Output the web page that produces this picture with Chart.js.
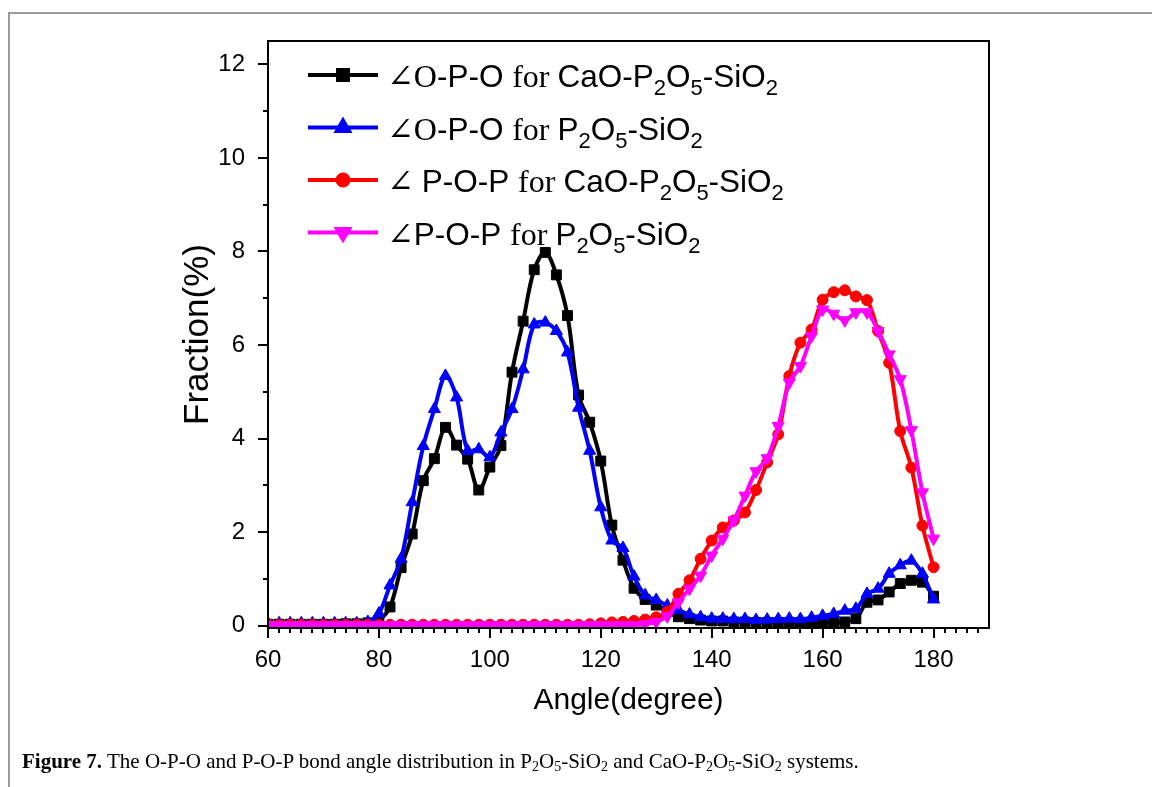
<!DOCTYPE html>
<html>
<head>
<meta charset="utf-8">
<title>Bond angle distribution</title>
<script src="https://cdn.jsdelivr.net/npm/chart.js@4.4.1/dist/chart.umd.min.js"></script>
<style>
  html, body { margin: 0; padding: 0; background: #fff; }
  #wrap { position: relative; width: 1152px; height: 787px; overflow: hidden; }
  #frame { position: absolute; left: 8px; top: 12px; width: 1300px; height: 900px;
           border-left: 2px solid #9c9c9c; border-top: 2px solid #9c9c9c; }
  #angleChart { position: absolute; left: 0; top: 0; }
  #caption { position: absolute; left: 22px; top: 749px; white-space: nowrap;
             font-family: "Liberation Serif", "DejaVu Serif", serif; font-size: 21px; color: #000; }
  #caption sub { font-size: 14px; vertical-align: -3px; line-height: 0; }
</style>
</head>
<body>
<div id="wrap">
  <div id="frame"></div>
  <canvas id="angleChart" width="1152" height="787"></canvas>
  <div id="caption"><b>Figure 7.</b> The O-P-O and P-O-P bond angle distribution in P<sub>2</sub>O<sub>5</sub>-SiO<sub>2</sub> and CaO-P<sub>2</sub>O<sub>5</sub>-SiO<sub>2</sub> systems.</div>
</div>

<script>
// bond angle bins (degree)
const angles = [60, 62, 64, 66, 68, 70, 72, 74, 76, 78,
                80, 82, 84, 86, 88, 90, 92, 94, 96, 98,
                100, 102, 104, 106, 108, 110, 112, 114, 116, 118,
                120, 122, 124, 126, 128, 130, 132, 134, 136, 138,
                140, 142, 144, 146, 148, 150, 152, 154, 156, 158,
                160, 162, 164, 166, 168, 170, 172, 174, 176, 178, 180];

// fraction (%) per bin
const opoCaO = [0.03, 0.03, 0.03, 0.03, 0.03, 0.03, 0.03, 0.04, 0.04, 0.06,
                0.12, 0.40, 1.24, 1.96, 3.10, 3.57, 4.24, 3.86, 3.56, 2.90,
                3.39, 3.85, 5.42, 6.51, 7.61, 7.98, 7.50, 6.63, 4.93, 4.35,
                3.52, 2.15, 1.40, 0.80, 0.56, 0.44, 0.30, 0.19, 0.15, 0.12,
                0.10, 0.10, 0.08, 0.08, 0.07, 0.07, 0.07, 0.07, 0.07, 0.07,
                0.07, 0.07, 0.08, 0.15, 0.50, 0.55, 0.72, 0.90, 0.97, 0.93, 0.63];
const opoNoCa = [0.05, 0.05, 0.05, 0.05, 0.05, 0.05, 0.05, 0.05, 0.05, 0.08,
                 0.26, 0.86, 1.43, 2.64, 3.84, 4.63, 5.34, 4.88, 3.74, 3.77,
                 3.60, 4.13, 4.63, 5.48, 6.44, 6.48, 6.30, 5.84, 4.66, 3.74,
                 2.53, 1.82, 1.66, 1.05, 0.65, 0.55, 0.43, 0.33, 0.24, 0.18,
                 0.15, 0.15, 0.14, 0.14, 0.12, 0.13, 0.14, 0.15, 0.14, 0.17,
                 0.21, 0.25, 0.32, 0.36, 0.68, 0.79, 1.11, 1.29, 1.39, 1.11, 0.56];
const popCaO = [0.02, 0.02, 0.02, 0.02, 0.02, 0.02, 0.02, 0.02, 0.02, 0.02,
                0.02, 0.02, 0.02, 0.02, 0.02, 0.02, 0.02, 0.02, 0.02, 0.02,
                0.02, 0.02, 0.02, 0.02, 0.02, 0.02, 0.02, 0.02, 0.02, 0.03,
                0.05, 0.07, 0.08, 0.10, 0.13, 0.18, 0.30, 0.68, 0.97, 1.43,
                1.82, 2.10, 2.25, 2.42, 2.90, 3.49, 4.09, 5.34, 6.05, 6.33,
                6.97, 7.13, 7.17, 7.04, 6.96, 6.30, 5.62, 4.16, 3.38, 2.14, 1.25];
const popNoCa = [0.01, 0.01, 0.01, 0.01, 0.01, 0.01, 0.01, 0.01, 0.01, 0.01,
                 0.01, 0.01, 0.01, 0.01, 0.01, 0.01, 0.01, 0.01, 0.01, 0.01,
                 0.01, 0.01, 0.01, 0.01, 0.01, 0.01, 0.01, 0.01, 0.01, 0.01,
                 0.01, 0.01, 0.01, 0.01, 0.03, 0.08, 0.20, 0.50, 0.79, 1.07,
                 1.50, 1.86, 2.25, 2.78, 3.30, 3.58, 4.27, 5.20, 5.55, 6.19,
                 6.76, 6.67, 6.53, 6.70, 6.70, 6.30, 5.80, 5.27, 4.18, 2.85, 1.86];

const xTicks = [60, 80, 100, 120, 140, 160, 180];
const yTicks = [0, 2, 4, 6, 8, 10, 12];

// legend labels, split into runs: [text, style]
const seriesLabels = [
  [['\u2220O', 'serif'], ['-P-O ', 'sans'], ['for ', 'serif'], ['CaO-P', 'sans'], ['2', 'sub'], ['O', 'sans'], ['5', 'sub'], ['-SiO', 'sans'], ['2', 'sub']],
  [['\u2220O', 'serif'], ['-P-O ', 'sans'], ['for ', 'serif'], ['P', 'sans'], ['2', 'sub'], ['O', 'sans'], ['5', 'sub'], ['-SiO', 'sans'], ['2', 'sub']],
  [['\u2220 ', 'serif'], ['P-O-P ', 'sans'], ['for ', 'serif'], ['CaO-P', 'sans'], ['2', 'sub'], ['O', 'sans'], ['5', 'sub'], ['-SiO', 'sans'], ['2', 'sub']],
  [['\u2220', 'serif'], ['P-O-P ', 'sans'], ['for ', 'serif'], ['P', 'sans'], ['2', 'sub'], ['O', 'sans'], ['5', 'sub'], ['-SiO', 'sans'], ['2', 'sub']]
];

const SANS = '"Liberation Sans", Arial, sans-serif';
const SERIF = '"Liberation Serif", "DejaVu Serif", serif';

function toPoints(values) {
  return values.map((v, i) => ({ x: angles[i], y: v }));
}

function series(label, values, color, style, radius, rotation, order) {
  return {
    label: label,
    data: toPoints(values),
    borderColor: color,
    backgroundColor: color,
    borderWidth: 4,
    tension: 0.35,
    pointStyle: style,
    pointRadius: radius,
    pointRotation: rotation,
    pointBorderWidth: 1,
    pointBackgroundColor: color,
    pointBorderColor: color,
    order: order
  };
}

// box around the plot + major/minor tick marks
const axisBox = {
  id: 'axisBox',
  afterDatasetsDraw(chart) {
    const { ctx, chartArea: a, scales: { x, y } } = chart;
    ctx.save();
    ctx.strokeStyle = '#000';
    ctx.lineWidth = 2;
    ctx.strokeRect(a.left, a.top, a.right - a.left, a.bottom - a.top);
    ctx.beginPath();
    for (let v = x.min; v < x.max; v += 2) {
      const px = Math.round(x.getPixelForValue(v));
      const len = (v - 60) % 20 === 0 ? 10 : 5;
      ctx.moveTo(px, a.bottom);
      ctx.lineTo(px, a.bottom + len);
    }
    for (let v = 0; v <= 12; v += 1) {
      const py = Math.round(y.getPixelForValue(v));
      const len = v % 2 === 0 ? 10 : 5;
      ctx.moveTo(a.left, py);
      ctx.lineTo(a.left - len, py);
    }
    ctx.stroke();
    ctx.restore();
  }
};

// legend with subscripts and mixed fonts
const richLegend = {
  id: 'richLegend',
  afterDraw(chart) {
    const ctx = chart.ctx;
    const x0 = 308, x1 = 378, textX = 387, rowY = 75, rowGap = 52.5;
    ctx.save();
    chart.data.datasets.forEach((ds, i) => {
      const cy = rowY + i * rowGap;
      ctx.strokeStyle = ds.borderColor;
      ctx.lineWidth = 4;
      ctx.beginPath();
      ctx.moveTo(x0, cy);
      ctx.lineTo(x1, cy);
      ctx.stroke();
      ctx.fillStyle = ds.borderColor;
      Chart.helpers.drawPoint(ctx, {
        pointStyle: ds.pointStyle, radius: ds.pointRadius,
        rotation: ds.pointRotation, borderWidth: 1
      }, (x0 + x1) / 2, cy);
      ctx.fill();
      let tx = textX;
      ctx.fillStyle = '#000';
      ctx.textBaseline = 'alphabetic';
      seriesLabels[i].forEach(([txt, kind]) => {
        let dy = 12;
        if (kind === 'serif') ctx.font = '32px ' + SERIF;
        else if (kind === 'sub') { ctx.font = '22px ' + SANS; dy = 20; }
        else ctx.font = '31.5px ' + SANS;
        ctx.fillText(txt, tx, cy + dy);
        tx += ctx.measureText(txt).width;
      });
    });
    ctx.restore();
  }
};

const ctx = document.getElementById('angleChart').getContext('2d');

new Chart(ctx, {
  type: 'line',
  data: {
    datasets: [
      series('O-P-O for CaO-P2O5-SiO2', opoCaO, '#000000', 'rect', 7, 0, 4),
      series('O-P-O for P2O5-SiO2', opoNoCa, '#0000ff', 'triangle', 7, 0, 3),
      series('P-O-P for CaO-P2O5-SiO2', popCaO, '#ff0000', 'circle', 5.5, 0, 2),
      series('P-O-P for P2O5-SiO2', popNoCa, '#ff00ff', 'triangle', 7, 180, 1)
    ]
  },
  options: {
    responsive: false,
    animation: false,
    layout: { padding: { left: 177, top: 41, right: 163, bottom: 67 } },
    scales: {
      x: {
        type: 'linear',
        min: 60,
        max: 190,
        afterBuildTicks: s => { s.ticks = xTicks.map(v => ({ value: v })); },
        ticks: { color: '#000', padding: 8, font: { family: SANS, size: 24 } },
        grid: { display: false, drawTicks: true, tickLength: 10 },
        border: { display: false },
        title: {
          display: true, text: 'Angle(degree)', color: '#000',
          font: { family: SANS, size: 30 }, padding: { top: 0, bottom: 1 }
        },
        afterFit: s => { s.height = 92; }
      },
      y: {
        min: -0.05,
        max: 12.5,
        afterBuildTicks: s => { s.ticks = yTicks.map(v => ({ value: v })); },
        ticks: { color: '#000', padding: 13, font: { family: SANS, size: 24 } },
        grid: { display: false, drawTicks: true, tickLength: 10 },
        border: { display: false },
        title: {
          display: true, text: 'Fraction(%)', color: '#000',
          font: { family: SANS, size: 35 }, padding: { top: 0, bottom: 0 }
        },
        afterFit: s => { s.width = 91; }
      }
    },
    plugins: {
      legend: { display: false },
      tooltip: { enabled: false }
    }
  },
  plugins: [axisBox, richLegend]
});
</script>
</body>
</html>
